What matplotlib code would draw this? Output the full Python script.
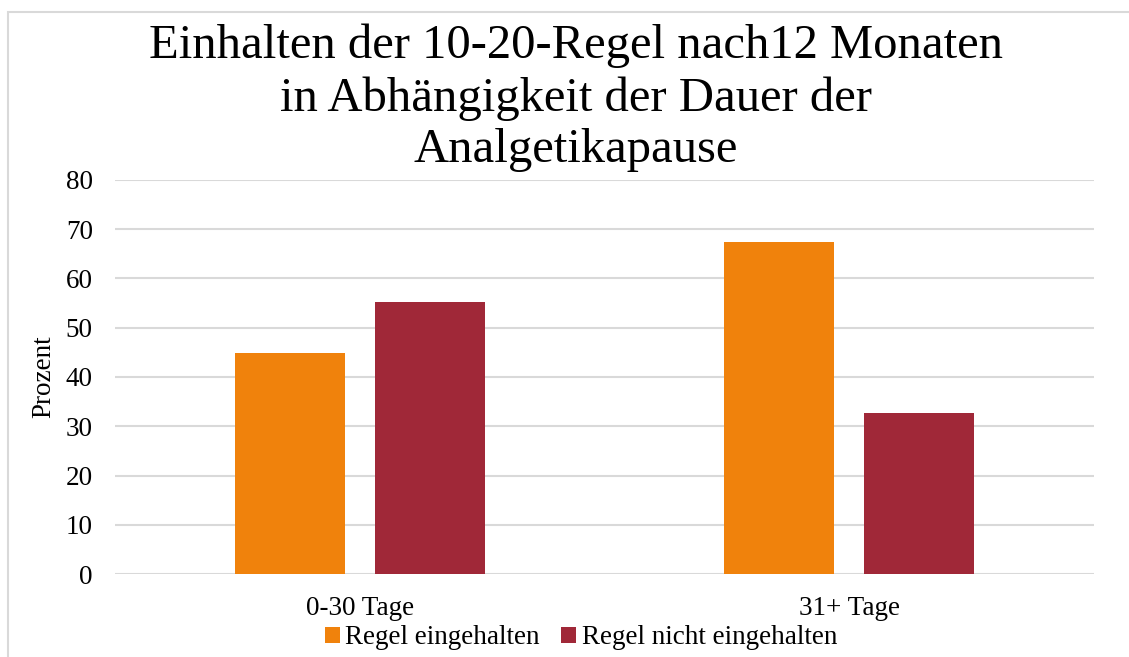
import matplotlib
matplotlib.use("Agg")
import matplotlib.pyplot as plt
import numpy as np
from matplotlib.patches import Rectangle

categories = ["0-30 Tage", "31+ Tage"]
series_names = ["Regel eingehalten", "Regel nicht eingehalten"]
eingehalten = [44.8, 67.4]
nicht_eingehalten = [55.2, 32.6]
yticks = [0, 10, 20, 30, 40, 50, 60, 70, 80]
title = "Einhalten der 10-20-Regel nach12 Monaten\nin Abhängigkeit der Dauer der\nAnalgetikapause"

plt.rcParams['font.family'] = ['Liberation Serif', 'DejaVu Serif']

W, H = 1129, 657
fig = plt.figure(figsize=(W/100, H/100), dpi=100)
ax = fig.add_axes([115/W, 1-574/H, (1094-115)/W, (574-180)/H])

x = np.arange(len(categories))
bw = 0.225
off = 0.143
c1 = '#F0820C'
c2 = '#A02838'
ax.bar(x - off, eingehalten, bw, color=c1, label=series_names[0], zorder=3)
ax.bar(x + off, nicht_eingehalten, bw, color=c2, label=series_names[1], zorder=3)

ax.set_xlim(-0.5, 1.5)
ax.set_ylim(0, 80)
ax.set_yticks(yticks)
ax.set_yticklabels([str(t) for t in yticks], fontsize=19.5)
ax.set_xticks(x)
ax.set_xticklabels(categories, fontsize=19.5)
ax.tick_params(axis='y', length=0, pad=16)
ax.tick_params(axis='x', length=0, pad=16)
ax.grid(axis='y', color='#D9D9D9', linewidth=1.5, zorder=0)
for s in ax.spines.values():
    s.set_visible(False)
ax.set_ylabel("Prozent", fontsize=19.5)
ax.yaxis.set_label_coords(-(115-44)/(1094-115), 0.5)
ax.yaxis.label.set_verticalalignment('center')

fig.text(576/W, 1-24/H, title, ha='center', va='top', fontsize=35, linespacing=1.22)

leg = fig.legend(loc='center', bbox_to_anchor=(581/W, 1-638/H), ncol=2, frameon=False,
                 fontsize=19.5, handlelength=0.55, handleheight=0.55, handletextpad=0.2,
                 columnspacing=0.8)

fig.patches.append(Rectangle((8/W, -0.1), 1.2, 1-12/H+0.1, transform=fig.transFigure,
                             fill=False, edgecolor='#D9D9D9', linewidth=1.5))

fig.savefig("out.png", dpi=100)
